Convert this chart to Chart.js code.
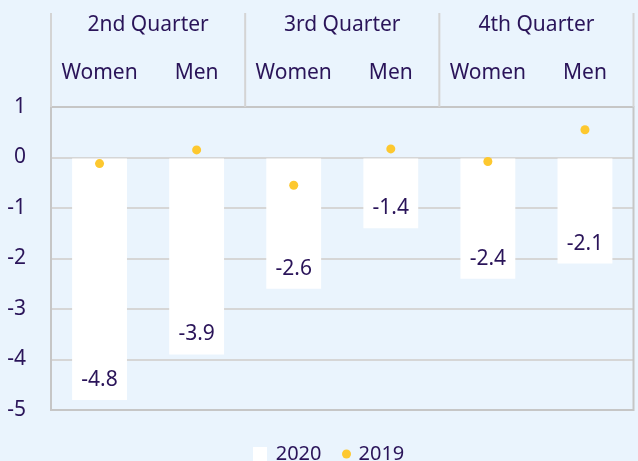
<!DOCTYPE html>
<html>
<head>
<meta charset="utf-8">
<script src="https://cdn.jsdelivr.net/npm/chart.js@4"></script>
<style>
html,body{margin:0;padding:0;background:#eaf4fd;}
#wrap{width:638px;height:461px;}
</style>
</head>
<body>
<div id="wrap"><canvas id="c" width="638" height="461"></canvas></div>
<script>
const quarters = ['2nd Quarter', '3rd Quarter', '4th Quarter'];
const groups = ['Women', 'Men', 'Women', 'Men', 'Women', 'Men'];
const values2020 = [-4.8, -3.9, -2.6, -1.4, -2.4, -2.1];
const values2019 = [-0.12, 0.15, -0.55, 0.17, -0.08, 0.55];
const seriesNames = ['2020', '2019'];
const yTicks = [1, 0, -1, -2, -3, -4, -5];

const BG = '#eaf4fd';
const TXT = '#2a1459';
const DOT = '#fdc82f';
const GRID = '#d6d6d6';
const FONT = '"Noto Sans", "Open Sans", sans-serif';
const FS = 21;

function makeSquare() {
  const c = document.createElement('canvas'); c.width = 14; c.height = 14;
  const g = c.getContext('2d'); g.fillStyle = '#ffffff'; g.fillRect(0, 0, 14, 14); return c;
}
function makeDot() {
  const c = document.createElement('canvas'); c.width = 16; c.height = 10;
  const g = c.getContext('2d'); g.fillStyle = DOT; g.beginPath(); g.arc(11.5, 5, 4.5, 0, Math.PI * 2); g.fill(); return c;
}
const legendIcons = [makeSquare(), makeDot()];

const decor = {
  id: 'decor',
  afterLayout(chart) {
    if (chart.legend) { chart.legend.left = 23; }
  },
  beforeDraw(chart) {
    const ctx = chart.ctx;
    ctx.save(); ctx.fillStyle = BG; ctx.fillRect(0, 0, chart.width, chart.height); ctx.restore();
  },
  afterDraw(chart) {
    const ctx = chart.ctx, a = chart.chartArea, xs = chart.scales.x;
    ctx.save();
    ctx.strokeStyle = '#c6c6c6'; ctx.lineWidth = 2;
    ctx.strokeRect(a.left, a.top, a.right - a.left, a.bottom - a.top);
    const bounds = [a.left];
    for (let q = 1; q < quarters.length; q++) {
      bounds.push((xs.getPixelForValue(q * 2 - 1) + xs.getPixelForValue(q * 2)) / 2);
    }
    bounds.push(a.right);
    ctx.strokeStyle = '#d4d4d4'; ctx.lineWidth = 2;
    bounds.forEach(b => { ctx.beginPath(); ctx.moveTo(b, 13); ctx.lineTo(b, a.top); ctx.stroke(); });
    ctx.fillStyle = TXT; ctx.font = FS + 'px ' + FONT; ctx.textAlign = 'center'; ctx.textBaseline = 'middle';
    quarters.forEach((q, i) => ctx.fillText(q, (bounds[i] + bounds[i + 1]) / 2, 25));
    groups.forEach((g, i) => ctx.fillText(g, xs.getPixelForValue(i), 73));
    ctx.restore();
  },
  afterDatasetsDraw(chart) {
    const ctx = chart.ctx, meta = chart.getDatasetMeta(0);
    ctx.save();
    ctx.fillStyle = TXT; ctx.font = FS + 'px ' + FONT; ctx.textAlign = 'center'; ctx.textBaseline = 'middle';
    meta.data.forEach((bar, i) => {
      ctx.fillText(values2020[i].toFixed(1), bar.x, bar.y - 20);
    });
    ctx.restore();
  }
};

new Chart(document.getElementById('c'), {
  data: {
    labels: groups,
    datasets: [
      { type: 'bar', label: seriesNames[0], data: values2020, backgroundColor: '#ffffff',
        barPercentage: 0.565, categoryPercentage: 1, order: 2 },
      { type: 'line', label: seriesNames[1], data: values2019, showLine: false,
        pointRadius: 4.5, pointHoverRadius: 4.5, pointBackgroundColor: DOT, pointBorderWidth: 0,
        borderColor: DOT, backgroundColor: DOT, order: 1 }
    ]
  },
  options: {
    responsive: false,
    animation: false,
    events: [],
    layout: { padding: { top: 107, right: 2, left: 0, bottom: -13 } },
    scales: {
      x: {
        display: true,
        grid: { display: false },
        border: { display: false },
        ticks: { display: false },
        afterFit(s) { s.height = 18; }
      },
      y: {
        min: -5, max: 1,
        afterBuildTicks(s) { s.ticks = yTicks.map(v => ({ value: v })); },
        grid: { color: GRID, lineWidth: 2, drawTicks: false },
        border: { display: false },
        ticks: { color: TXT, font: { size: FS, family: FONT }, padding: 25 },
        afterFit(s) { s.width = 51; }
      }
    },
    plugins: {
      legend: {
        position: 'bottom',
        labels: {
          color: TXT, font: { size: 20, family: FONT }, usePointStyle: true, pointStyleWidth: 11, padding: 16,
          generateLabels(chart) {
            return seriesNames.map((n, i) => ({
              text: n, pointStyle: legendIcons[i], fillStyle: i ? DOT : '#fff',
              strokeStyle: 'transparent', lineWidth: 0, hidden: false, datasetIndex: i, fontColor: TXT
            }));
          }
        }
      },
      tooltip: { enabled: false }
    }
  },
  plugins: [decor]
});
</script>
</body>
</html>
